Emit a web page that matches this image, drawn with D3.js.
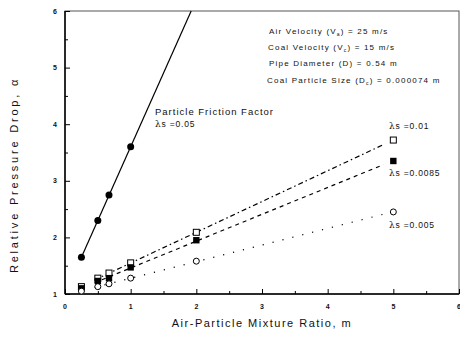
<html>
<head>
<style>
  body { margin: 0; background: #fff; }
  text { font-family: "Liberation Sans", Arial, sans-serif; fill: #111; }
</style>
</head>
<body>
<svg id="chart" width="460" height="338"></svg>
<script src="https://cdn.jsdelivr.net/npm/d3@7"></script>
<script>
// mixture ratio m
let mLow = [0.25, 0.5, 0.67, 1];
let mAll = [0.25, 0.5, 0.67, 1, 2, 5];
// relative pressure drop for each friction factor
let alpha050 = [1.65, 2.3, 2.75, 3.6];
let alpha010 = [1.13, 1.28, 1.37, 1.55, 2.09, 3.72];
let alpha0085 = [1.1, 1.23, 1.28, 1.47, 1.95, 3.35];
let alpha005 = [1.05, 1.13, 1.18, 1.28, 1.58, 2.45];
let xTicks = [0, 1, 2, 3, 4, 5, 6];
let yTicks = [1, 2, 3, 4, 5, 6];
let notes = ["Air Velocity (V", "Coal Velocity (V", "Pipe Diameter (D) = 0.54 m", "Coal Particle Size (D"];

let svg = d3.select("#chart");
let pLeft = 65, pRight = 459, pTop = 11, pBottom = 294;

let x = d3.scaleLinear().domain([0, 6]).range([pLeft, pRight]);
let y = d3.scaleLinear().domain([1, 6]).range([pBottom, pTop]);

// frame
svg.append("rect").attr("x", pLeft).attr("y", pTop)
  .attr("width", pRight - pLeft).attr("height", pBottom - pTop)
  .attr("fill", "none").attr("stroke", "#555").attr("stroke-width", 1);
svg.append("line").attr("x1", pLeft).attr("x2", pRight).attr("y1", pBottom).attr("y2", pBottom)
  .attr("stroke", "#000").attr("stroke-width", 1.5);
svg.append("line").attr("x1", pLeft).attr("x2", pLeft).attr("y1", pTop).attr("y2", pBottom)
  .attr("stroke", "#000").attr("stroke-width", 1.5);

// axes with inward ticks
let xAxis = svg.append("g").attr("transform", "translate(0," + pBottom + ")")
  .call(d3.axisBottom(x).tickValues(d3.range(0, 6.01, 0.5)).tickSize(-4).tickFormat(""));
xAxis.select(".domain").remove();
xAxis.selectAll(".tick line").attr("y2", d => d % 1 === 0 ? -5 : -3);
svg.append("g").selectAll("text").data(xTicks).join("text")
  .attr("x", d => x(d)).attr("y", pBottom + 15).attr("text-anchor", "middle")
  .attr("font-size", 7).attr("font-weight", "bold").text(d => d);

let yAxis = svg.append("g").attr("transform", "translate(" + pLeft + ",0)")
  .call(d3.axisLeft(y).tickValues(d3.range(1, 6.01, 0.5)).tickSize(-4).tickFormat(""));
yAxis.select(".domain").remove();
yAxis.selectAll(".tick line").attr("x2", d => d % 1 === 0 ? 5 : 3);
svg.append("g").selectAll("text").data(yTicks).join("text")
  .attr("x", pLeft - 10).attr("y", d => y(d) + 2.5).attr("text-anchor", "middle")
  .attr("font-size", 7).attr("font-weight", "bold").text(d => d);

// axis titles
svg.append("text").attr("x", 262).attr("y", 327).attr("text-anchor", "middle")
  .attr("font-size", 11).attr("letter-spacing", 1.5).text("Air-Particle Mixture Ratio, m");
svg.append("text").attr("transform", "translate(18,175) rotate(-90)").attr("text-anchor", "middle")
  .attr("font-size", 11).attr("letter-spacing", 2.8).text("Relative Pressure Drop, α");

// fitted lines
function fit(xs, ys) {
  let mx = d3.mean(xs), my = d3.mean(ys);
  let b = d3.sum(xs, (v, i) => (v - mx) * (ys[i] - my)) / d3.sum(xs, v => (v - mx) * (v - mx));
  return v => my + b * (v - mx);
}
let line = d3.line().x(d => x(d[0])).y(d => y(d[1]));

let f050 = fit(mLow, alpha050);
let xTop = mLow[0] + (6 - f050(mLow[0])) / ((f050(1) - f050(0)));
svg.append("path").attr("d", line([[mLow[0], f050(mLow[0])], [xTop, 6]]))
  .attr("fill", "none").attr("stroke", "#000").attr("stroke-width", 1.2);

let series = [
  { ys: alpha010, dash: "5,3,1.5,3" },
  { ys: alpha0085, dash: "4,4" },
  { ys: alpha005, dash: "1.2,9" }
];
series.forEach(s => {
  let f = fit(mAll, s.ys);
  svg.append("path").attr("d", line([[0.45, f(0.45)], [4.85, f(4.85)]]))
    .attr("fill", "none").attr("stroke", "#000").attr("stroke-width", 1.2)
    .attr("stroke-dasharray", s.dash);
});

// markers
svg.append("g").selectAll("circle").data(mLow).join("circle")
  .attr("cx", d => x(d)).attr("cy", (d, i) => y(alpha050[i])).attr("r", 3.5).attr("fill", "#000");
svg.append("g").selectAll("rect").data(mAll).join("rect")
  .attr("x", d => x(d) - 3).attr("y", (d, i) => y(alpha010[i]) - 3)
  .attr("width", 6).attr("height", 6).attr("fill", "#fff").attr("stroke", "#000").attr("stroke-width", 1);
svg.append("g").selectAll("rect").data(mAll).join("rect")
  .attr("x", d => x(d) - 3.2).attr("y", (d, i) => y(alpha0085[i]) - 3.2)
  .attr("width", 6.4).attr("height", 6.4).attr("fill", "#000");
svg.append("g").selectAll("circle").data(mAll).join("circle")
  .attr("cx", d => x(d)).attr("cy", (d, i) => y(alpha005[i])).attr("r", 3)
  .attr("fill", "#fff").attr("stroke", "#000").attr("stroke-width", 1);

// notes
let nt = svg.append("g").attr("font-size", 8).attr("letter-spacing", 1.2);
let n1 = nt.append("text").attr("x", 269).attr("y", 34);
n1.append("tspan").text(notes[0]);
n1.append("tspan").attr("font-size", 5).attr("dy", 2).text("a");
n1.append("tspan").attr("dy", -2).text(") = 25 m/s");
let n2 = nt.append("text").attr("x", 268).attr("y", 50);
n2.append("tspan").text(notes[1]);
n2.append("tspan").attr("font-size", 5).attr("dy", 2).text("c");
n2.append("tspan").attr("dy", -2).text(") = 15 m/s");
nt.append("text").attr("x", 269).attr("y", 66).text(notes[2]);
let n4 = nt.append("text").attr("x", 267).attr("y", 83);
n4.append("tspan").text(notes[3]);
n4.append("tspan").attr("font-size", 5).attr("dy", 2).text("c");
n4.append("tspan").attr("dy", -2).text(") = 0.000074 m");

svg.append("text").attr("x", 155).attr("y", 115).attr("font-size", 9.5)
  .attr("letter-spacing", 1).text("Particle Friction Factor");
function lam(px, py, val) {
  let t = svg.append("text").attr("x", px).attr("y", py).attr("font-size", 9).attr("letter-spacing", 0.8);
  t.append("tspan").attr("font-family", "DejaVu Serif").attr("font-size", 9).text("λ");
  t.append("tspan").attr("font-size", 8.5).text("s =" + val);
}
lam(155, 127, "0.05");
lam(389, 129, "0.01");
lam(389, 176, "0.0085");
lam(389, 228, "0.005");
</script>
</body>
</html>
